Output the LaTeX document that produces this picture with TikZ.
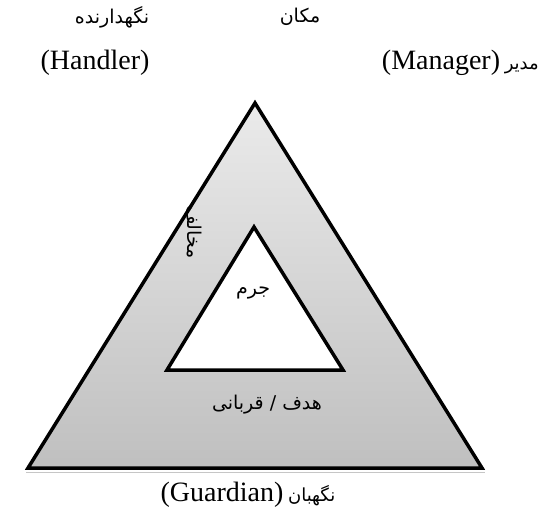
\documentclass[tikz,border=0pt]{standalone}
\usepackage{fontspec}
\setmainfont{Liberation Serif}
\newfontfamily\latinfont{Liberation Serif}
\newfontfamily\persianfont[Script=Arabic]{DejaVu Sans}
\TeXXeTstate=1
\usepackage{tikz}
\usetikzlibrary{positioning,calc}

\begin{document}
\begin{tikzpicture}[
  x=1pt, y=-1pt,
  edge/.style={line width=3.5pt, line join=miter},
  latin/.style={font=\latinfont\fontsize{28}{32}\selectfont, inner sep=0pt},
  fa/.style={font=\persianfont\fontsize{19}{22}\selectfont, inner sep=0pt},
]
\useasboundingbox (0,0) rectangle (541,511);

% Corners
\coordinate (oTop) at (255,103);
\coordinate (oLeft) at (28,468);
\coordinate (oRight) at (482,468);
\coordinate (iTop) at (254,227);
\coordinate (iLeft) at (167,370);
\coordinate (iRight) at (343,370);

% Outer triangle
\draw[gray!45, line width=1pt] ($(oLeft)+(-2,4)$) -- ($(oRight)+(3,4)$);
\shade[top color=gray!16, bottom color=gray!50] (oTop) -- (oLeft) -- (oRight) -- cycle;
\node[fa, rotate=-90] (opp) at (194,232) {\beginR مخالف\endR};
\draw[edge] (oTop) -- (oLeft) -- (oRight) -- cycle;

% Inner triangle
\draw[edge, fill=white] (iTop) -- (iLeft) -- (iRight) -- cycle;
\node[fa] (crime) at (253,293) {\beginR جرم\endR};
\node[fa] (target) at (267,405) {\beginR هدف / قربانی\endR};

% Top labels
\node[fa] (handlerFa) at (112,17) {\beginR نگهدارنده\endR};
\node[latin] (handler) at (95,63) {(Handler)};
\node[fa] (place) at (300,17) {\beginR مکان\endR};
\node[latin, anchor=east] (manager) at (539,63) {(Manager)\,{\persianfont\fontsize{18}{22}\selectfont\beginR مدیر\endR}};

% Bottom label
\node[latin] (guardian) at (248,495) {(Guardian)\,{\persianfont\fontsize{18}{22}\selectfont\beginR نگهبان\endR}};
\end{tikzpicture}
\end{document}
